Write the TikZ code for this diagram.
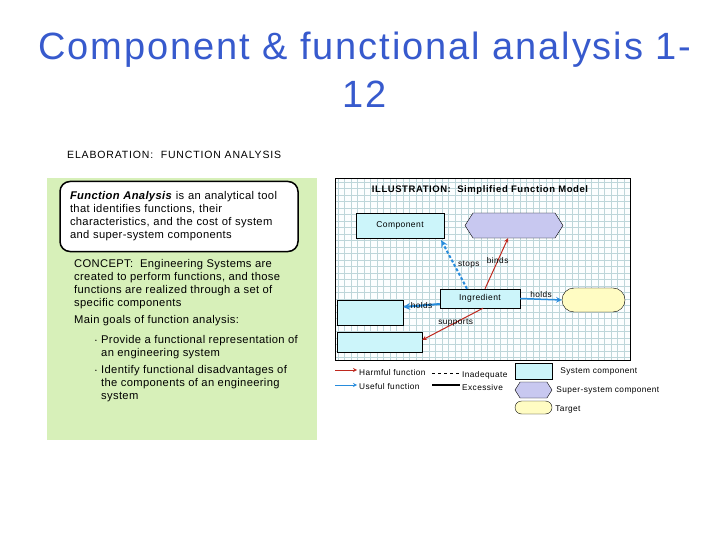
\documentclass[tikz,border=0pt]{standalone}
\usepackage{fontspec}
\setmainfont{Liberation Sans}
\usetikzlibrary{positioning, shapes.symbols, shapes.misc}

\definecolor{titleblue}{RGB}{55,90,205}
\definecolor{panelgreen}{RGB}{215,240,185}
\definecolor{syscyan}{RGB}{204,245,250}
\definecolor{superpurple}{RGB}{200,200,240}
\definecolor{targetyellow}{RGB}{255,252,195}
\definecolor{gridblue}{RGB}{190,214,218}
\definecolor{harmred}{RGB}{190,40,30}
\definecolor{usefulblue}{RGB}{40,140,220}

\begin{document}
\begin{tikzpicture}[
x=1pt, y=-1pt, >=stealth,
bodytext/.style={inner sep=0pt, align=left, font=\fontsize{11.2}{13}\selectfont\addfontfeatures{LetterSpace=3}},
small/.style={inner sep=1pt, text=black, font=\fontsize{8.3}{9}\selectfont\addfontfeatures{LetterSpace=5}},
syscomp/.style={draw, fill=syscyan, inner sep=0pt, font=\fontsize{8.5}{10}\selectfont\addfontfeatures{LetterSpace=5}},
supercomp/.style={draw, fill=superpurple, shape=signal, signal to=east and west, signal pointer angle=115, inner sep=0pt},
targetcomp/.style={draw, fill=targetyellow, shape=rounded rectangle, inner sep=0pt},
harmful/.style={->, harmred, line width=1pt},
useful/.style={->, usefulblue, line width=1.5pt}
]
\useasboundingbox (0,0) rectangle (720,540);

% Title
\node[text=titleblue, align=center, font=\fontsize{38}{48}\selectfont\addfontfeatures{LetterSpace=5}] (title) at (365,70) {Component \& functional analysis 1-\\12};
\node[inner sep=0pt, font=\fontsize{10.5}{12}\selectfont\addfontfeatures{LetterSpace=8}, anchor=west] (elab) at (67,155) {ELABORATION:\ \ FUNCTION ANALYSIS};

% Left panel
\fill[panelgreen] (47,178) rectangle (317,440);
\node[draw, line width=1.5pt, rounded corners=10pt, fill=white, minimum width=236pt, minimum height=70pt,
  text width=218pt, inner xsep=10pt, align=left, font=\fontsize{11.2}{13}\selectfont\addfontfeatures{LetterSpace=3}] (definition) at (179,216.5)
  {\textbf{\textit{Function Analysis}} is an analytical tool\\that identifies functions, their\\characteristics, and the cost of system\\and super-system components};
\node[bodytext, anchor=north west] (concept) at (74,259) {CONCEPT:\ \ Engineering Systems are\\created to perform functions, and those\\functions are realized through a set of\\specific components};
\node[bodytext, below=6pt of concept.south west, anchor=north west] (goals) {Main goals of function analysis:};
\node[bodytext, anchor=north west] (goal1) at (101,335) {Provide a functional representation of\\an engineering system};
\node[bodytext, below=6pt of goal1.south west, anchor=north west] (goal2) {Identify functional disadvantages of\\the components of an engineering\\system};
\node[inner sep=0pt, font=\tiny, left=4pt of goal1.north west, anchor=east, yshift=-6pt] (bullet1) {\textbullet};
\node[inner sep=0pt, font=\tiny, left=4pt of goal2.north west, anchor=east, yshift=-6pt] (bullet2) {\textbullet};

% Illustration panel
\fill[white!95!syscyan] (335,178) rectangle (630,360);
\draw[gridblue, line width=0.4pt, step=6.5pt] (335,178) grid (630,360);
\draw[line width=0.8pt] (335,178) rectangle (630,360);
\node[inner sep=0pt, font=\bfseries\fontsize{9.5}{11}\selectfont\addfontfeatures{LetterSpace=6}] (illtitle) at (480,190) {ILLUSTRATION:\ \ Simplified Function Model};

% Nodes
\node[syscomp, minimum width=88pt, minimum height=25pt] (component) at (400,225.5) {Component};
\node[supercomp, minimum width=98pt, minimum height=25pt] (supersys) at (514,225.5) {};
\node[syscomp, minimum width=80pt, minimum height=19pt] (ingredient) at (480,298.5) {Ingredient};
\node[targetcomp, minimum width=63pt, minimum height=24pt] (target) at (593.5,300) {};
\node[syscomp, minimum width=66pt, minimum height=25pt] (upperbox) at (370,312.5) {};
\node[syscomp, minimum width=85pt, minimum height=20pt] (lowerbox) at (379.5,342) {};

% Arrows
\draw[useful, densely dashed, line width=2pt] ([xshift=-13pt]ingredient.north) -- node[small, right=2pt] {stops} ([xshift=-3pt, yshift=-2pt]component.south east);
\draw[harmful] ([xshift=5pt]ingredient.north) -- node[small, pos=0.55] {binds} ([xshift=-6pt]supersys.south);
\draw[useful] (ingredient.east) -- node[small, above] {holds} (target.west);
\draw[useful, line width=2pt] ([yshift=-5.5pt]ingredient.west) -- node[small] {holds} ([yshift=5.5pt]upperbox.east);
\draw[harmful] ([xshift=3pt]ingredient.south) -- node[small, pos=0.45] {supports} ([yshift=2pt]lowerbox.east);

% Legend
\coordinate (harmstart) at (335,370);
\coordinate (harmend) at (357,370);
\coordinate (usestart) at (335,385);
\coordinate (useend) at (357,385);
\coordinate (inadstart) at (432,373);
\coordinate (inadend) at (460,373);
\coordinate (excstart) at (432,385);
\coordinate (excend) at (460,385);
\draw[->, harmred, line width=0.8pt] (harmstart) -- (harmend);
\draw[->, usefulblue, line width=0.8pt] (usestart) -- (useend);
\draw[dashed, line width=0.6pt] (inadstart) -- (inadend);
\draw[line width=2.5pt] (excstart) -- (excend);
\node[small, anchor=west] (harmtext) at (358,373) {Harmful function};
\node[small, anchor=west] (usetext) at (358,387) {Useful function};
\node[small, anchor=west] (inadtext) at (461,375) {Inadequate};
\node[small, anchor=west] (exctext) at (461,388) {Excessive};
\node[syscomp, minimum width=37pt, minimum height=16pt] (legsys) at (533.5,371) {};
\node[supercomp, minimum width=37pt, minimum height=16pt] (legsuper) at (533.5,390) {};
\node[targetcomp, minimum width=37pt, minimum height=13pt] (legtarget) at (533.5,407.5) {};
\node[small, right=7pt of legsys] (systext) {System component};
\node[small, right=3pt of legsuper] (supertext) {Super-system component};
\node[small, right=2pt of legtarget, yshift=-2pt] (targettext) {Target};
\end{tikzpicture}
\end{document}
